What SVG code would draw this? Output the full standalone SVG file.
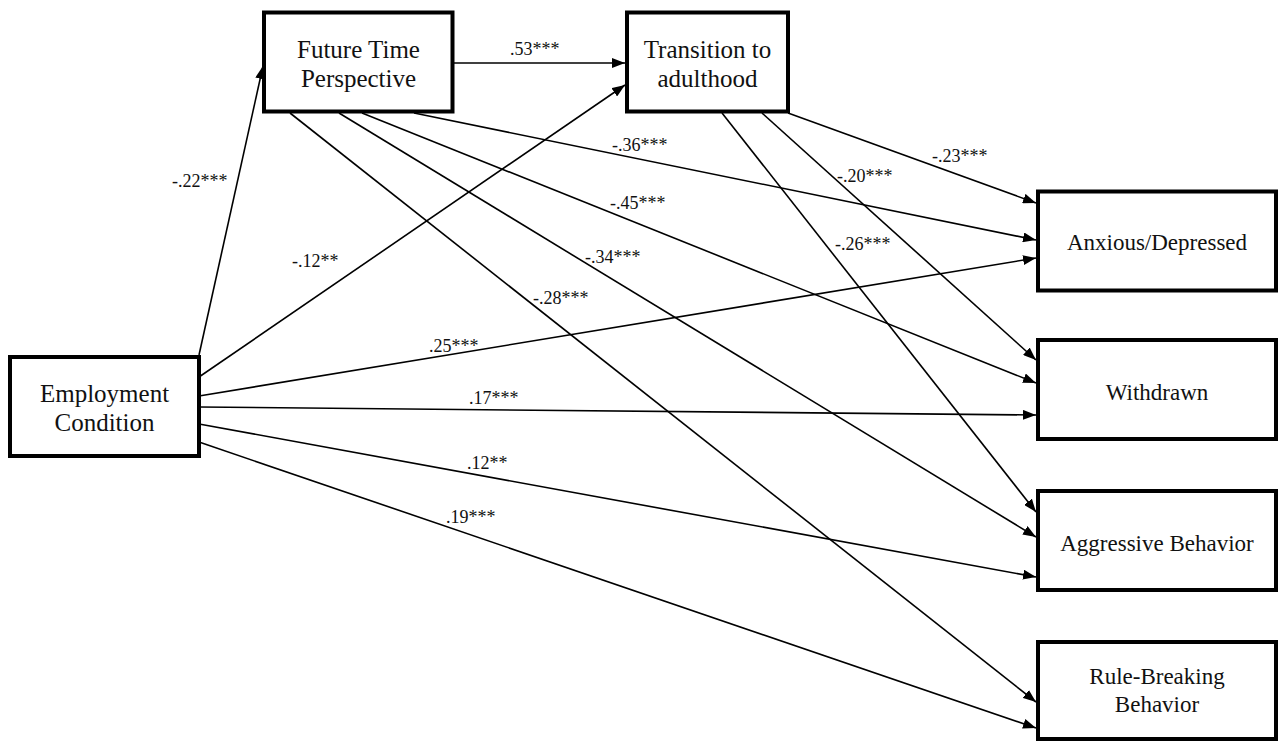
<svg xmlns="http://www.w3.org/2000/svg" width="1279" height="741" viewBox="0 0 1279 741">
<defs>
<marker id="ah" markerUnits="userSpaceOnUse" markerWidth="13" markerHeight="10" refX="13" refY="5" orient="auto">
<path d="M0,0 L13,5 L0,10 z" fill="#000"/>
</marker>
<style>
.box{fill:#fff;stroke:#000;stroke-width:4}
.bt{font-family:'Liberation Serif',Tinos,'Times New Roman',Times,'DejaVu Serif',serif;font-size:25px;fill:#111;text-anchor:middle}
.rt{font-family:'Liberation Serif',Tinos,'Times New Roman',Times,'DejaVu Serif',serif;font-size:23px;fill:#111;text-anchor:middle}
.lb{font-family:'Liberation Serif',Tinos,'Times New Roman',Times,'DejaVu Serif',serif;font-size:18px;fill:#111}
.c{stroke:#000;stroke-width:1.6;fill:none;marker-end:url(#ah)}
</style>
</defs>
<rect width="1279" height="741" fill="#fff"/>
<g id="connectors">
<line class="c" x1="199" y1="355" x2="263" y2="66"/>
<line class="c" x1="454" y1="63" x2="625" y2="63"/>
<line class="c" x1="199" y1="377" x2="625" y2="85"/>
<line class="c" x1="199" y1="396" x2="1036" y2="258"/>
<line class="c" x1="199" y1="407" x2="1036" y2="415"/>
<line class="c" x1="199" y1="424" x2="1036" y2="577"/>
<line class="c" x1="199" y1="442" x2="1036" y2="728"/>
<line class="c" x1="414" y1="113" x2="1036" y2="240"/>
<line class="c" x1="362" y1="113" x2="1036" y2="383"/>
<line class="c" x1="339" y1="113" x2="1036" y2="537"/>
<line class="c" x1="290" y1="113" x2="1036" y2="702"/>
<line class="c" x1="788" y1="113" x2="1036" y2="203"/>
<line class="c" x1="762" y1="113" x2="1036" y2="360"/>
<line class="c" x1="722" y1="113" x2="1036" y2="512"/>
</g>
<g id="labels">
<text class="lb" x="510" y="55" font-family="Liberation Serif, serif">.53***</text>
<text class="lb" x="172" y="187" font-family="Liberation Serif, serif">-.22***</text>
<text class="lb" x="292" y="267" font-family="Liberation Serif, serif">-.12**</text>
<text class="lb" x="612" y="151" font-family="Liberation Serif, serif">-.36***</text>
<text class="lb" x="610" y="209" font-family="Liberation Serif, serif">-.45***</text>
<text class="lb" x="585" y="263" font-family="Liberation Serif, serif">-.34***</text>
<text class="lb" x="533" y="304" font-family="Liberation Serif, serif">-.28***</text>
<text class="lb" x="837" y="182" font-family="Liberation Serif, serif">-.20***</text>
<text class="lb" x="835" y="250" font-family="Liberation Serif, serif">-.26***</text>
<text class="lb" x="932" y="162" font-family="Liberation Serif, serif">-.23***</text>
<text class="lb" x="429" y="352" font-family="Liberation Serif, serif">.25***</text>
<text class="lb" x="469" y="404" font-family="Liberation Serif, serif">.17***</text>
<text class="lb" x="467" y="469" font-family="Liberation Serif, serif">.12**</text>
<text class="lb" x="446" y="523" font-family="Liberation Serif, serif">.19***</text>
</g>
<g id="employment">
<rect class="box" x="10" y="357" width="189" height="99"/>
<text class="bt" x="104.5" y="402">Employment</text>
<text class="bt" x="104.5" y="431">Condition</text>
</g>
<g id="ftp">
<rect class="box" x="264" y="12.5" width="188.5" height="99"/>
<text class="bt" x="358.5" y="58">Future Time</text>
<text class="bt" x="358.5" y="87">Perspective</text>
</g>
<g id="transition">
<rect class="box" x="627" y="12.5" width="161" height="99"/>
<text class="bt" x="707.5" y="58">Transition to</text>
<text class="bt" x="707.5" y="87">adulthood</text>
</g>
<g id="anxious">
<rect class="box" x="1038" y="191.5" width="238" height="99"/>
<text class="rt" x="1157" y="250">Anxious/Depressed</text>
</g>
<g id="withdrawn">
<rect class="box" x="1038" y="340" width="238" height="99"/>
<text class="rt" x="1157" y="400">Withdrawn</text>
</g>
<g id="aggressive">
<rect class="box" x="1038" y="491" width="238" height="99"/>
<text class="rt" x="1157" y="551">Aggressive Behavior</text>
</g>
<g id="rulebreaking">
<rect class="box" x="1038" y="642" width="238" height="97"/>
<text class="rt" x="1157" y="684">Rule-Breaking</text>
<text class="rt" x="1157" y="712">Behavior</text>
</g>
</svg>
